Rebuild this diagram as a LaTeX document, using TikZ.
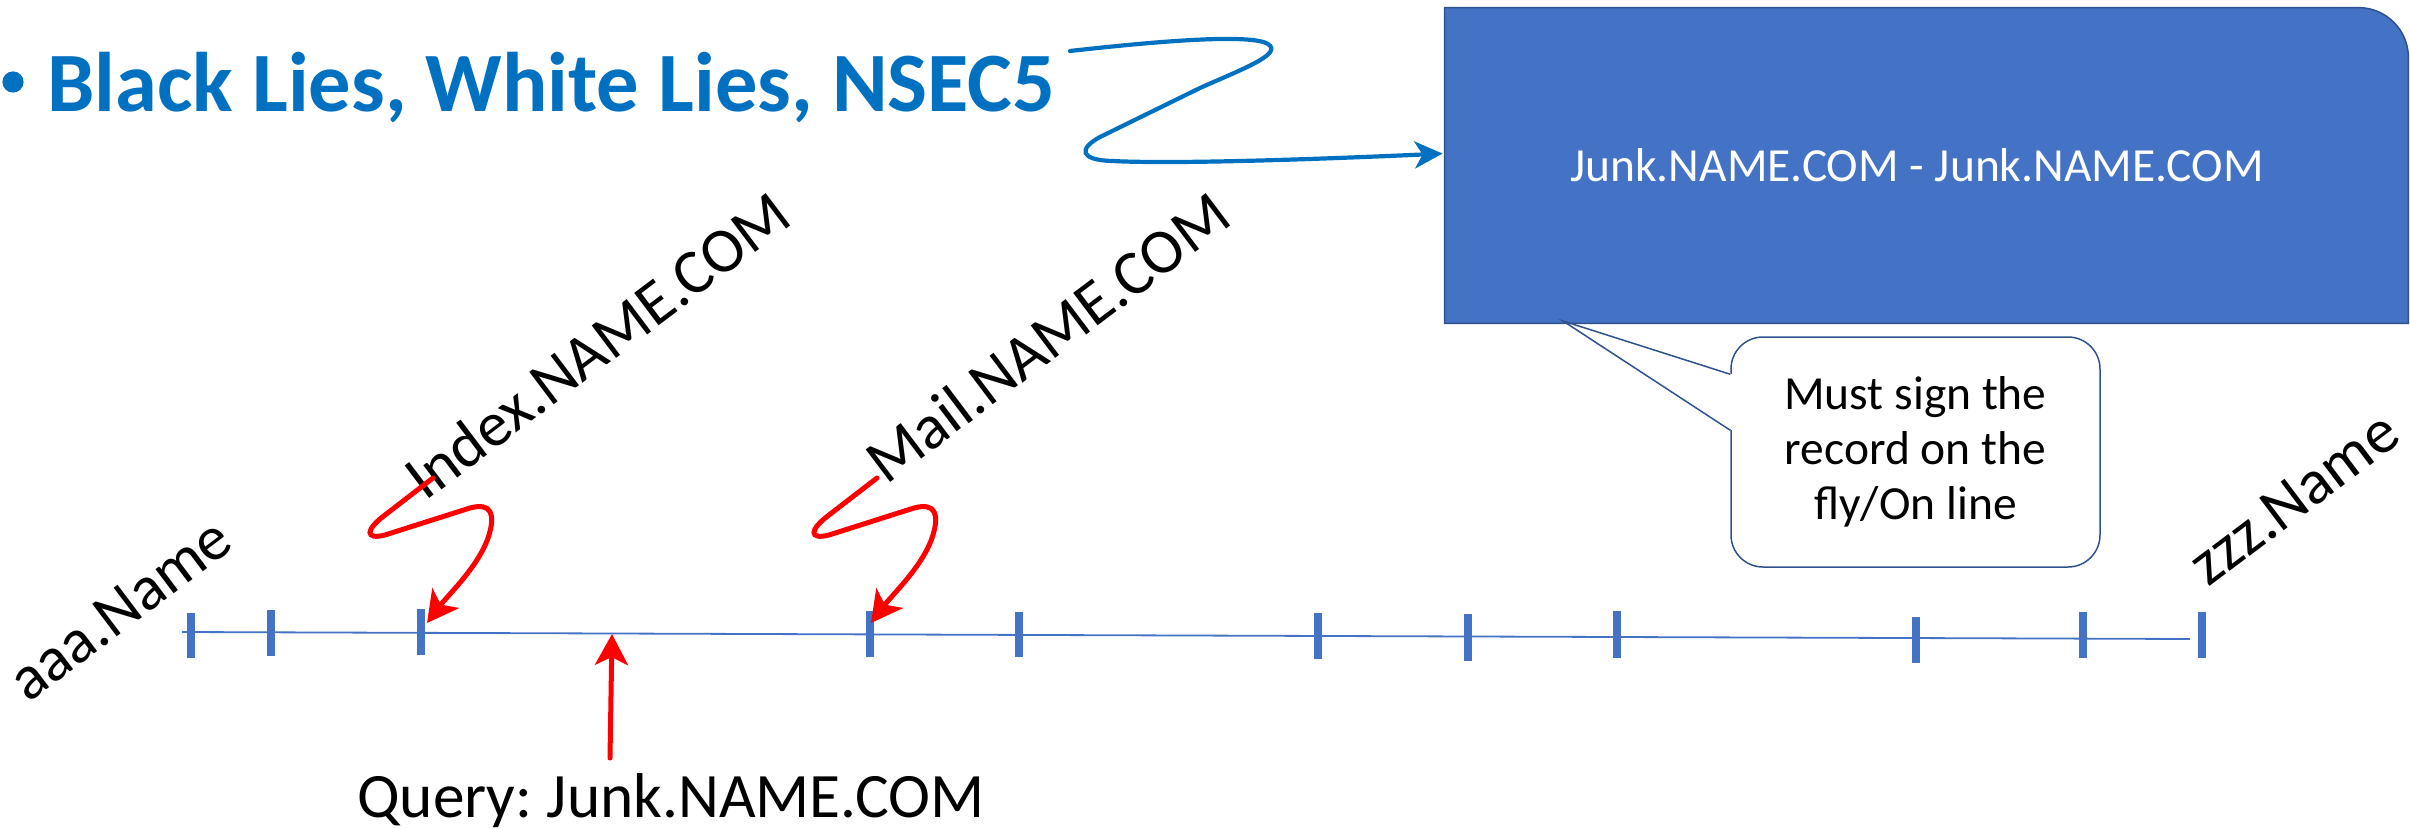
\documentclass[tikz,border=0pt]{standalone}
\usepackage{fontspec}
\setmainfont{Carlito}
\usetikzlibrary{arrows.meta,calc}
\definecolor{titleblue}{HTML}{0070C0}
\definecolor{accent}{HTML}{4472C4}
\definecolor{edgeblue}{HTML}{2F528F}
\definecolor{pointred}{HTML}{FF0000}
\frenchspacing
\begin{document}
\begin{tikzpicture}[x=0.5pt,y=-0.5pt,
  lbl/.style={font=\fontsize{31.65pt}{38pt}\selectfont, inner sep=0pt},
  boxtext/.style={font=\fontsize{23.75pt}{27.5pt}\selectfont, inner sep=0pt},
  zarrow/.style={draw=titleblue, line width=2.1pt, line cap=round,
    -{Stealth[length=14pt,width=13.5pt,inset=4pt]}},
  redarrow/.style={draw=pointred, line width=2.5pt, line cap=round,
    -{Stealth[length=15.5pt,width=16.5pt,inset=4pt]}},
  tickmark/.style={draw=accent, line width=3.8pt},
  axis/.style={draw=accent, line width=0.9pt}]
\useasboundingbox (0,0) rectangle (2410,829);

% heading with its bullet
\fill[titleblue] (13,82) circle[radius=5.3pt];
\node[anchor=base west, inner sep=0pt, text=titleblue,
      font=\fontsize{42.25pt}{50pt}\selectfont\bfseries] (title) at (47,112)
      {Black Lies, White Lies, NSEC5};

% record box, rounded at the top right only
\node[minimum width=481.5pt, minimum height=157.5pt, inner sep=0pt] (rec) at (1926.5,165.5) {};
\path[fill=accent, draw=edgeblue, line width=0.75pt]
  (rec.south west) -- (rec.north west) -- ([xshift=-25pt]rec.north east)
  arc[start angle=90, end angle=0, radius=25pt] -- (rec.south east) -- cycle;
\node[boxtext, text=white, anchor=base] (recText) at (1917,182)
  {Junk.NAME.COM - Junk.NAME.COM};

% callout with its pointer
\node[draw=edgeblue, fill=white, line width=0.75pt, rounded corners=16pt,
      minimum width=184.5pt, minimum height=115pt, align=center,
      font=\fontsize{23.75pt}{27.5pt}\selectfont] (note) at (1915.5,452)
  {Must sign the\\record on the\\fly/On line};
\coordinate (tailTip) at (1563,321);
\coordinate (tailA) at ($(note.north west)+(0,38)$);
\coordinate (tailB) at ($(note.north west)+(0,94)$);
\fill[white] ($(tailA)+(2,0)$) -- (tailTip) -- ($(tailB)+(2,0)$) -- cycle;
\draw[edgeblue, line width=0.75pt, line join=miter] (tailA) -- (tailTip) -- (tailB);

% name line and its ticks
\coordinate (lineL) at (182,632);
\coordinate (lineR) at (2190,639);
\draw[axis] (lineL) -- (lineR);
\foreach \x/\a/\b in {191/613/658, 271/610/656, 421/609/655, 870/611/657,
    1019/612/657, 1318/613/659, 1468/614/661, 1617/611/658, 1916/617/663,
    2083/612/658, 2202/612/658}
  \draw[tickmark] (\x,\a) -- (\x,\b);

% slanted names
\node[lbl, rotate=37, anchor=base west] (aaa) at (28,704) {aaa.Name};
\node[lbl, rotate=37, anchor=base west] (index) at (425,502) {Index.NAME.COM};
\node[lbl, rotate=37, anchor=base west] (mail) at (886,486) {Mail.NAME.COM};
\node[lbl, rotate=37, anchor=base west] (zzz) at (2208,588) {zzz.Name};

% query
\node[lbl, anchor=base] (query) at (671,817) {Query: Junk.NAME.COM};
\coordinate (qBase) at (610,758);
\coordinate (qTip) at (612,634);
\draw[redarrow] (qBase) -- (qTip);

% pointers from the names to their ticks
\coordinate (idxFrom) at (433,478);
\coordinate (idxTo) at (427,623);
\draw[redarrow] (idxFrom) -- (385,515) .. controls (365,530) and (365,540) .. (385,535)
  -- (470,508) .. controls (492,502) and (495,515) .. (489,535)
  .. controls (480,565) and (448,595) .. (idxTo);
\coordinate (mailFrom) at (877,478);
\coordinate (mailTo) at (871,623);
\draw[redarrow] (mailFrom) -- (829,515) .. controls (809,530) and (809,540) .. (829,535)
  -- (914,508) .. controls (936,502) and (939,515) .. (933,535)
  .. controls (924,565) and (892,595) .. (mailTo);

% heading to record box
\coordinate (zFrom) at (1070,51);
\coordinate (zTo) at ($(rec.north west)+(-2,146)$);
\draw[zarrow] (zFrom) .. controls (1150,42) and (1250,33) .. (1268,44)
  .. controls (1284,54) and (1240,70) .. (1200,88)
  -- (1100,137) .. controls (1078,149) and (1080,160) .. (1112,161)
  .. controls (1170,164) and (1300,160) .. (zTo);
\end{tikzpicture}
\end{document}
